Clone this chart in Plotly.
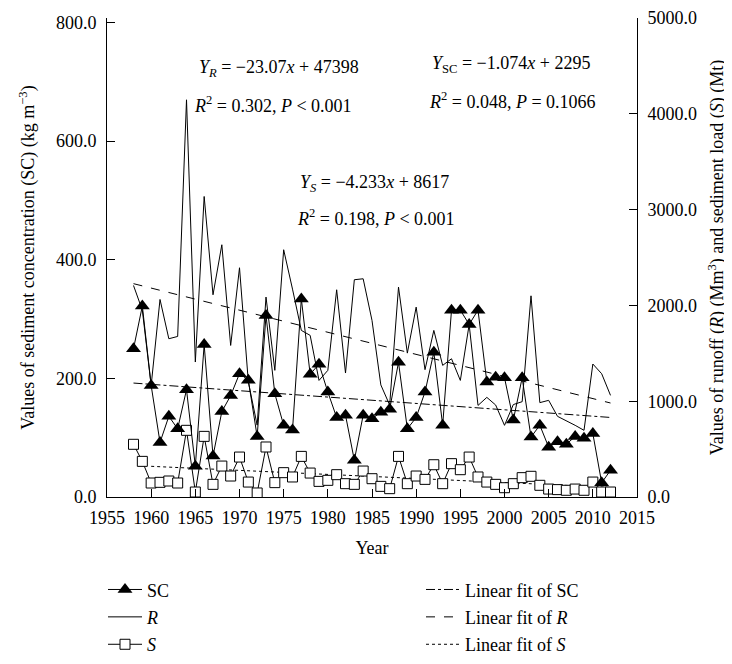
import plotly.graph_objects as go

years = list(range(1958, 2013))

sc = [250, 322, 188, 92, 136, 115, 181, 52, 257, 69,
      144, 171, 208, 197, 102, 306, 174, 121, 113, 334,
      207, 224, 177, 134, 138, 62, 138, 132, 143, 148,
      227, 115, 134, 177, 244, 121, 315, 315, 291, 315,
      194, 202, 201, 130, 201, 101, 121, 84, 93, 89,
      102, 99, 107, 24, 45]

runoff = [2208, 1950, 1165, 2062, 1652, 1676, 4146, 1409, 3137, 2111,
          2633, 1582, 2393, 1200, 750, 2087, 1322, 2581, 2170, 1739,
          1687, 1217, 1322, 2163, 1294, 2268, 2278, 1843, 1170, 960,
          2191, 1502, 1982, 1329, 1739, 1374, 1443, 1217, 1800, 956,
          1040, 960, 748, 965, 995, 2100, 985, 1009, 842, 797,
          748, 696, 1388, 1287, 1061]

sload = [550, 372, 146, 153, 167, 146, 696, 52, 633, 132,
         323, 219, 417, 156, 42, 522, 150, 254, 209, 424,
         250, 163, 174, 233, 139, 132, 271, 191, 111, 87,
         424, 139, 219, 184, 337, 139, 348, 285, 417, 209,
         156, 132, 97, 139, 202, 216, 122, 83, 77, 70,
         83, 70, 156, 52, 52]

# fit coefficients (slope, intercept) and x-extent, as printed on the chart
fit_sc = (-1.074, 2295, [1958, 2012])
fit_r = (-23.07, 47398, [1958, 2012])
fit_s = (-4.233, 8617, [1960, 2012])

x_ticks = list(range(1955, 2016, 5))
left_ticks = [0, 200, 400, 600, 800]
right_ticks = [0, 1000, 2000, 3000, 4000, 5000]

FONT = "Liberation Serif"
fig = go.Figure()

def fitline(c):
    m, b, xs = c
    return xs, [m * x + b for x in xs]

# runoff and sediment load on primary (right) axis
fig.add_trace(go.Scatter(x=years, y=runoff, mode="lines", name="<i>R</i>",
                         line=dict(color="black", width=1), legend="legend",
                         legendrank=2, legendgroup="r"))
xs, ys = fitline(fit_r)
fig.add_trace(go.Scatter(x=xs, y=ys, mode="lines", name="Linear fit of <i>R</i>",
                         line=dict(color="black", width=1, dash="dash"), legend="legend2",
                         legendrank=2, legendgroup="fr"))
xs, ys = fitline(fit_s)
fig.add_trace(go.Scatter(x=xs, y=ys, mode="lines", name="Linear fit of <i>S</i>",
                         line=dict(color="black", width=1, dash="dot"), legend="legend2",
                         legendrank=3, legendgroup="fs"))
fig.add_trace(go.Scatter(x=years, y=sload, mode="lines+markers", name="<i>S</i>",
                         line=dict(color="black", width=1),
                         marker=dict(symbol="square", size=10, color="white",
                                     line=dict(color="black", width=1)), legend="legend",
                         legendrank=3, legendgroup="s"))
# sediment concentration on left axis (drawn above)
xs, ys = fitline(fit_sc)
fig.add_trace(go.Scatter(x=xs, y=ys, mode="lines", name="Linear fit of SC", yaxis="y2",
                         line=dict(color="black", width=1, dash="dashdot"), legend="legend2",
                         legendrank=1, legendgroup="fsc"))
fig.add_trace(go.Scatter(x=years, y=sc, mode="lines+markers", name="SC", yaxis="y2",
                         line=dict(color="black", width=1),
                         marker=dict(symbol="triangle-up", size=13, color="black"),
                         legend="legend", legendrank=1, legendgroup="sc"))

# page offset of the plot div (browser default body margin)
OFF = 8
W, H = 732 - OFF, 664 - OFF
# desired plot area in page pixels
PL, PR, PT, PB = 107, 637, 17.5, 496.7
L, R, T, B = PL - OFF, W - (PR - OFF), PT - OFF, H - (PB - OFF)
pw = W - L - R
ph = H - T - B

def px(xp):
    return (xp - OFF - L) / pw

def py(yp):
    return (H - B - (yp - OFF)) / ph

axis_common = dict(showline=True, linecolor="black", linewidth=1, ticks="inside",
                   ticklen=8, tickcolor="black", showgrid=False, zeroline=False,
                   automargin=False,
                   tickfont=dict(family=FONT, size=18, color="black"))

legend_common = dict(xref="paper", yref="paper", xanchor="left", yanchor="top",
                     bgcolor="rgba(0,0,0,0)", font=dict(family=FONT, size=18),
                     itemwidth=34, traceorder="grouped", tracegroupgap=1)

fig.update_layout(
    width=W, height=H, margin=dict(l=L, r=R, t=T, b=B, autoexpand=False),
    paper_bgcolor="white", plot_bgcolor="white",
    font=dict(family=FONT, size=18, color="black"),
    xaxis=dict(range=[1955, 2015], tickvals=x_ticks, ticklabelstandoff=4,
               title=dict(text="Year", font=dict(family=FONT, size=18), standoff=14),
               **axis_common),
    yaxis=dict(range=[0, 5000], tickvals=right_ticks, tickformat=".1f", side="right",
               ticklabelstandoff=6,
               title=dict(text="Values of runoff (<i>R</i>) (Mm<sup>3</sup>) and sediment load (<i>S</i>) (Mt)",
                          font=dict(family=FONT, size=18), standoff=14),
               **axis_common),
    yaxis2=dict(range=[0, 800 * 479.2 / 474.7], tickvals=left_ticks, tickformat=".1f",
                side="left", overlaying="y", ticklabelstandoff=6,
                title=dict(text="Values of sediment concentration (SC) (kg m<sup>−3</sup>)",
                           font=dict(family=FONT, size=18), standoff=16),
                **axis_common),
    legend=dict(x=px(103), y=py(571), **legend_common),
    legend2=dict(x=px(421), y=py(571), **legend_common),
    showlegend=True,
)

ann = [
    ("<i>Y</i><sub><i>R</i></sub> = −23.07<i>x</i> + 47398", 197, 68),
    ("<i>R</i><sup>2</sup> = 0.302, <i>P</i> &lt; 0.001", 192, 104),
    ("<i>Y</i><sub>SC</sub> = −1.074<i>x</i> + 2295", 430, 64),
    ("<i>R</i><sup>2</sup> = 0.048, <i>P</i> = 0.1066", 427, 100),
    ("<i>Y</i><sub><i>S</i></sub> = −4.233<i>x</i> + 8617", 298, 183),
    ("<i>R</i><sup>2</sup> = 0.198, <i>P</i> &lt; 0.001", 295, 217),
]
for txt, x0, y0 in ann:
    fig.add_annotation(text=txt, x=px(x0), y=py(y0), xref="paper", yref="paper",
                       xanchor="left", yanchor="middle", showarrow=False,
                       font=dict(family=FONT, size=18, color="black"))

fig.write_html("out.html")
